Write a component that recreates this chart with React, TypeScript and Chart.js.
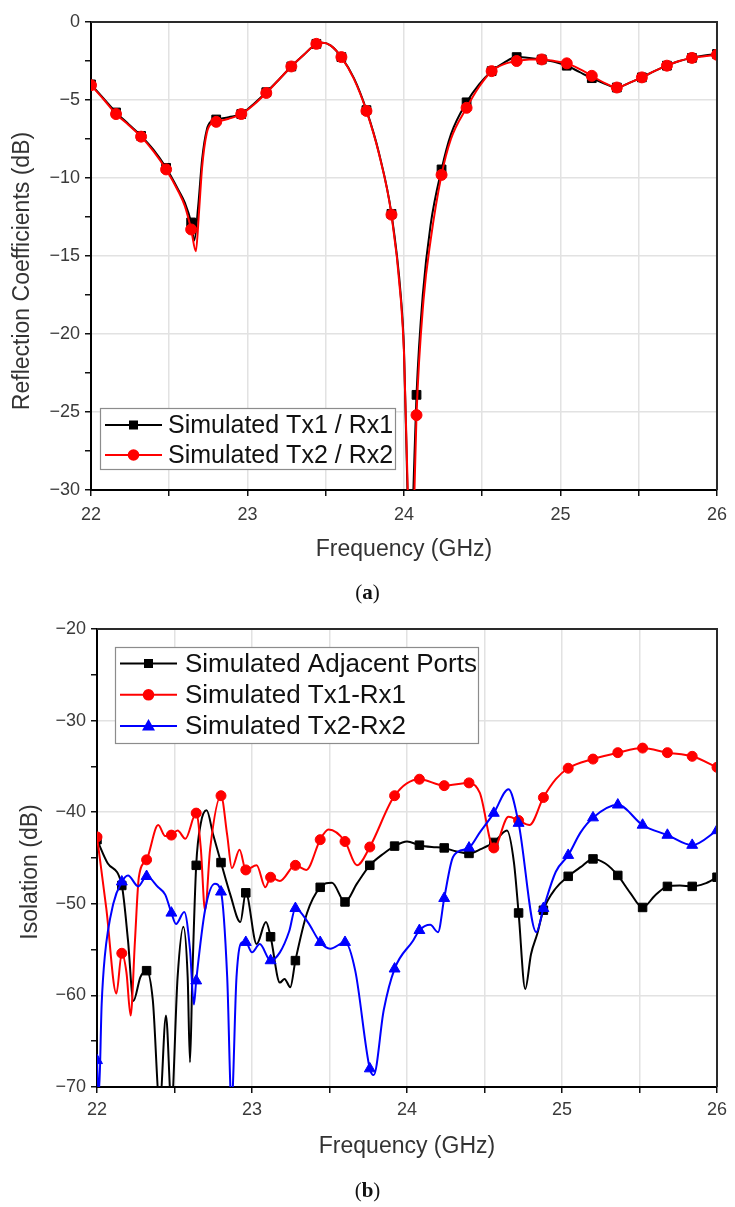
import React, { useEffect, useRef } from "react";
import { Chart, registerables } from "chart.js";

Chart.register(...registerables);

const FONT = "'Liberation Sans', Arial, Helvetica, sans-serif";

// ---------- data ----------
const markerFreqs = [
  22, 22.16, 22.32, 22.48, 22.64, 22.8, 22.96, 23.12, 23.28, 23.44, 23.6, 23.76, 23.92,
  24.08, 24.24, 24.4, 24.56, 24.72, 24.88, 25.04, 25.2, 25.36, 25.52, 25.68, 25.84, 26,
];

// (a) Reflection coefficients, [GHz, dB]
const reflTx1Rx1: [number, number][] = [
  [22, -4.0], [22.08, -4.9], [22.16, -5.8], [22.24, -6.55], [22.32, -7.3], [22.4, -8.2],
  [22.48, -9.35], [22.56, -10.8], [22.6, -11.6], [22.64, -12.85], [22.66, -14.0], [22.685, -11.8],
  [22.71, -8.8], [22.74, -6.9], [22.77, -6.35], [22.8, -6.25], [22.88, -6.1], [22.96, -5.9],
  [23.04, -5.25], [23.12, -4.5], [23.2, -3.7], [23.28, -2.85], [23.36, -2.1], [23.44, -1.4],
  [23.48, -1.33], [23.53, -1.5], [23.6, -2.25], [23.68, -3.6], [23.76, -5.65], [23.84, -8.4],
  [23.92, -12.3], [23.98, -17.6], [24.0, -21.0], [24.022, -30.0], [24.04, -36.0], [24.06, -30.0],
  [24.08, -23.9], [24.12, -17.5], [24.17, -13.0], [24.24, -9.45], [24.3, -7.2], [24.4, -5.15],
  [24.48, -4.0], [24.56, -3.15], [24.64, -2.6], [24.72, -2.25], [24.8, -2.3], [24.88, -2.4],
  [24.96, -2.55], [25.04, -2.8], [25.12, -3.2], [25.2, -3.6], [25.28, -3.95], [25.36, -4.2],
  [25.44, -3.9], [25.52, -3.55], [25.6, -3.15], [25.68, -2.8], [25.76, -2.5], [25.84, -2.3],
  [25.92, -2.15], [26, -2.05],
];

const reflTx2Rx2: [number, number][] = [
  [22, -4.05], [22.08, -4.95], [22.16, -5.9], [22.24, -6.6], [22.32, -7.35], [22.4, -8.3],
  [22.48, -9.45], [22.56, -10.9], [22.6, -11.8], [22.64, -13.3], [22.67, -14.7], [22.69, -12.2],
  [22.71, -9.3], [22.74, -7.1], [22.77, -6.5], [22.8, -6.4], [22.88, -6.2], [22.96, -5.9],
  [23.04, -5.3], [23.12, -4.55], [23.2, -3.7], [23.28, -2.85], [23.36, -2.1], [23.44, -1.4],
  [23.48, -1.33], [23.53, -1.5], [23.6, -2.25], [23.68, -3.65], [23.76, -5.7], [23.84, -8.45],
  [23.92, -12.35], [23.98, -17.8], [24.0, -21.2], [24.024, -30.0], [24.045, -36.0], [24.067, -30.0],
  [24.08, -25.2], [24.125, -17.8], [24.17, -14.0], [24.24, -9.8], [24.3, -7.5], [24.4, -5.5],
  [24.48, -4.15], [24.56, -3.15], [24.64, -2.7], [24.72, -2.5], [24.8, -2.4], [24.88, -2.4],
  [24.96, -2.5], [25.04, -2.65], [25.12, -3.0], [25.2, -3.45], [25.28, -3.9], [25.36, -4.2],
  [25.44, -3.9], [25.52, -3.55], [25.6, -3.15], [25.68, -2.8], [25.76, -2.5], [25.84, -2.3],
  [25.92, -2.2], [26, -2.1],
];

// (b) Isolation, [GHz, dB]
const isoAdjacent: [number, number][] = [
  [22, -43.0], [22.07, -45.6], [22.16, -48.0], [22.2, -54.0], [22.235, -60.6], [22.28, -58.0],
  [22.32, -57.3], [22.36, -60.5], [22.405, -72], [22.445, -62.2], [22.48, -72], [22.52, -58],
  [22.557, -52.5], [22.585, -58], [22.6, -67.3], [22.615, -58], [22.64, -45.8], [22.67, -41.2],
  [22.707, -39.8], [22.75, -42.5], [22.8, -45.5], [22.86, -49], [22.925, -52.0], [22.96, -48.8],
  [23.03, -54.4], [23.09, -52.0], [23.12, -53.6], [23.18, -58.6], [23.21, -58.2], [23.247, -59.1],
  [23.28, -56.2], [23.355, -51.0], [23.44, -48.2], [23.516, -47.7], [23.6, -49.8], [23.677, -47.8],
  [23.76, -45.8], [23.85, -44.5], [23.92, -43.7], [24.0, -43.2], [24.08, -43.6], [24.16, -43.8],
  [24.24, -43.9], [24.32, -44.3], [24.4, -44.5], [24.48, -44.0], [24.56, -43.3], [24.645, -42.0],
  [24.69, -45.5], [24.72, -51.0], [24.763, -59.3], [24.8, -55.5], [24.84, -53.3], [24.88, -50.7],
  [24.96, -48.3], [25.04, -47.0], [25.12, -46.0], [25.2, -45.1], [25.28, -45.6], [25.36, -46.9],
  [25.44, -48.8], [25.52, -50.4], [25.6, -49.1], [25.68, -48.1], [25.76, -48.0], [25.84, -48.1],
  [25.92, -47.8], [26, -47.1],
];

const isoTx1Rx1: [number, number][] = [
  [22, -42.7], [22.06, -50.5], [22.125, -59.8], [22.16, -55.4], [22.19, -57.5], [22.217, -62.2],
  [22.245, -54], [22.27, -47.1], [22.32, -45.2], [22.395, -41.4], [22.44, -42.6], [22.48, -42.5],
  [22.52, -42.0], [22.57, -42.9], [22.64, -40.1], [22.67, -44], [22.697, -50.7], [22.73, -44],
  [22.8, -38.2], [22.84, -42.5], [22.87, -46.1], [22.92, -44.1], [22.96, -46.3], [23.03, -45.8],
  [23.086, -48.2], [23.12, -47.1], [23.18, -47.5], [23.28, -45.8], [23.35, -46.3], [23.44, -43.0],
  [23.494, -41.9], [23.6, -43.2], [23.677, -45.8], [23.76, -43.8], [23.92, -38.2], [24.08, -36.4],
  [24.24, -37.1], [24.4, -36.8], [24.47, -37.9], [24.56, -43.9], [24.655, -40.5], [24.72, -40.9],
  [24.79, -41.4], [24.88, -38.4], [24.96, -36.4], [25.04, -35.2], [25.2, -34.2], [25.36, -33.5],
  [25.52, -33.0], [25.68, -33.5], [25.84, -33.9], [26, -35.1],
];

const isoTx2Rx2: [number, number][] = [
  [22, -67.1], [22.012, -71], [22.03, -61], [22.05, -55.8], [22.105, -50.0], [22.16, -47.6],
  [22.2, -46.9], [22.266, -48.1], [22.32, -47.0], [22.395, -48.2], [22.44, -49.0], [22.48, -51.0],
  [22.51, -52.2], [22.563, -50.9], [22.6, -55], [22.625, -61.0], [22.64, -58.4], [22.697, -50.7],
  [22.76, -47.8], [22.8, -48.7], [22.84, -58], [22.868, -72], [22.9, -58], [22.937, -54.2],
  [22.96, -54.2], [23.0, -55.3], [23.05, -54.4], [23.12, -56.2], [23.18, -55.3], [23.24, -53],
  [23.28, -50.5], [23.36, -52.0], [23.44, -54.2], [23.505, -54.9], [23.6, -54.2], [23.666, -57.3],
  [23.76, -68.0], [23.785, -68.7], [23.85, -61.6], [23.92, -57.1], [24.04, -54], [24.08, -52.9],
  [24.15, -52.3], [24.2, -53.1], [24.24, -49.4], [24.29, -45.2], [24.33, -44.3], [24.4, -43.9],
  [24.47, -42.2], [24.56, -40.1], [24.655, -37.5], [24.72, -41.2], [24.834, -53.1], [24.88, -50.5],
  [24.96, -46.5], [25.04, -44.7], [25.12, -42.2], [25.2, -40.6], [25.36, -39.2], [25.52, -41.4],
  [25.68, -42.5], [25.84, -43.6], [26, -42.0],
];

const freqTickLabels = [22, 23, 24, 25, 26];
const reflTickLabels = [0, -5, -10, -15, -20, -25, -30];
const isoTickLabels = [-20, -30, -40, -50, -60, -70];

// ---------- helpers ----------
const markerSet = new Set(markerFreqs);
const fmt = (v: number) => (v < 0 ? "\u2212" + Math.abs(v) : String(v));

function makeDataset(label: string, pts: [number, number][], color: string, style: string, radius: number, order: number) {
  return {
    label,
    data: pts.map(([x, y]) => ({ x, y })),
    borderColor: color,
    backgroundColor: color,
    borderWidth: 2,
    pointStyle: style,
    pointRadius: (c: any) => (c.raw && markerSet.has(c.raw.x) ? radius : 0),
    pointHoverRadius: 0,
    pointBackgroundColor: color,
    pointBorderColor: color,
    pointBorderWidth: 1,
    cubicInterpolationMode: "monotone",
    tension: 0.4,
    fill: false,
    order,
  };
}

function drawMarker(ctx: CanvasRenderingContext2D, style: string, x: number, y: number, color: string) {
  ctx.fillStyle = color;
  ctx.beginPath();
  if (style === "rect") {
    ctx.rect(x - 4.5, y - 4.5, 9, 9);
  } else if (style === "circle") {
    ctx.arc(x, y, 5.8, 0, Math.PI * 2);
  } else {
    ctx.moveTo(x, y - 7);
    ctx.lineTo(x + 6.5, y + 4.5);
    ctx.lineTo(x - 6.5, y + 4.5);
    ctx.closePath();
  }
  ctx.fill();
}

const decorPlugin = {
  id: "decor",
  afterDraw(chart: any, _args: any, opts: any) {
    const { ctx, chartArea } = chart;
    const { left, top, right, bottom } = chartArea;
    ctx.save();
    // top & right frame
    ctx.strokeStyle = "#2a2a2a";
    ctx.lineWidth = 2;
    ctx.beginPath();
    ctx.moveTo(left, top);
    ctx.lineTo(right, top);
    ctx.lineTo(right, bottom);
    ctx.stroke();

    // y title
    ctx.save();
    ctx.translate(opts.yTitleX, (top + bottom) / 2 + opts.yTitleDy);
    ctx.rotate(-Math.PI / 2);
    ctx.font = `23px ${FONT}`;
    ctx.fillStyle = "#333";
    ctx.textAlign = "center";
    ctx.textBaseline = "middle";
    ctx.fillText(opts.yTitle, 0, 0);
    ctx.restore();

    // legend
    const L = opts.legend;
    ctx.fillStyle = "#fff";
    ctx.fillRect(L.x, L.y, L.w, L.h);
    ctx.strokeStyle = "#8c8c8c";
    ctx.lineWidth = 1.2;
    ctx.strokeRect(L.x + 0.5, L.y + 0.5, L.w, L.h);
    const entries = chart.data.datasets;
    entries.forEach((d: any, i: number) => {
      const ry = L.y + L.firstRow + i * L.rowGap;
      ctx.strokeStyle = d.borderColor;
      ctx.lineWidth = 2;
      ctx.beginPath();
      ctx.moveTo(L.x + L.lineX1, ry);
      ctx.lineTo(L.x + L.lineX2, ry);
      ctx.stroke();
      drawMarker(ctx, d.pointStyle, L.x + (L.lineX1 + L.lineX2) / 2, ry, d.borderColor);
      ctx.fillStyle = "#111";
      ctx.font = `${L.fontSize}px ${FONT}`;
      ctx.textAlign = "left";
      ctx.textBaseline = "middle";
      ctx.fillText(d.label, L.x + L.textX, ry + 1);
    });
    ctx.restore();
  },
};

function buildOptions(cfg: any) {
  return {
    responsive: false,
    animation: false,
    devicePixelRatio: 1,
    events: [],
    layout: { padding: cfg.padding },
    plugins: {
      legend: { display: false },
      tooltip: { enabled: false },
      decor: cfg.decor,
    },
    scales: {
      x: {
        type: "linear",
        min: 22,
        max: 26,
        afterFit: (s: any) => {
          s.height = cfg.xAxisHeight;
        },
        ticks: {
          stepSize: 0.5,
          autoSkip: false,
          maxRotation: 0,
          padding: cfg.xTickPad,
          color: "#3a3a3a",
          font: { size: 18, family: FONT },
          callback: (v: number) => (freqTickLabels.includes(v) ? fmt(v) : ""),
        },
        grid: { color: "#e2e2e2", lineWidth: 1.5, tickColor: "#111", tickLength: 6, tickWidth: 1.5 },
        border: { color: "#000", width: 2 },
        title: {
          display: true,
          text: "Frequency (GHz)",
          color: "#333",
          font: { size: 23, family: FONT },
          padding: { top: 0, bottom: cfg.xTitlePad },
        },
      },
      y: {
        type: "linear",
        min: cfg.yMin,
        max: cfg.yMax,
        afterFit: (s: any) => {
          s.width = cfg.yAxisWidth;
        },
        ticks: {
          stepSize: cfg.yStep,
          autoSkip: false,
          padding: 5,
          color: "#3a3a3a",
          font: { size: 18, family: FONT },
          callback: (v: number) => (cfg.yLabels.includes(v) ? fmt(v) : ""),
        },
        grid: {
          color: (c: any) => (c.tick && cfg.yLabels.includes(c.tick.value) ? "#e2e2e2" : "rgba(0,0,0,0)"),
          lineWidth: 1.5,
          tickColor: "#111",
          tickLength: 6,
          tickWidth: 1.5,
        },
        border: { color: "#000", width: 2 },
        title: { display: false },
      },
    },
  };
}

function ChartCanvas({ width, height, top, config }: { width: number; height: number; top: number; config: () => any }) {
  const ref = useRef<HTMLCanvasElement | null>(null);
  useEffect(() => {
    if (!ref.current) return;
    const chart = new Chart(ref.current, config());
    return () => chart.destroy();
  }, []);
  return (
    <canvas
      ref={ref}
      width={width}
      height={height}
      style={{ position: "absolute", left: 0, top, width, height, display: "block" }}
    />
  );
}

const configA = () => ({
  type: "line",
  data: {
    datasets: [
      makeDataset("Simulated Tx1 / Rx1", reflTx1Rx1, "#000000", "rect", 6.2, 2),
      makeDataset("Simulated Tx2 / Rx2", reflTx2Rx2, "#ff0000", "circle", 5.5, 1),
    ],
  },
  options: buildOptions({
    padding: { left: 0, right: 11, top: 22, bottom: 0 },
    xAxisHeight: 110,
    xTickPad: 8,
    xTitlePad: 37,
    yAxisWidth: 91,
    yMin: -30,
    yMax: 0,
    yStep: 2.5,
    yLabels: reflTickLabels,
    decor: {
      yTitle: "Reflection Coefficients (dB)",
      yTitleX: 23,
      yTitleDy: 15,
      legend: { x: 100, y: 408, w: 295, h: 61, firstRow: 17, rowGap: 30, lineX1: 5, lineX2: 62, textX: 68, fontSize: 25 },
    },
  }),
  plugins: [decorPlugin],
});

const configB = () => ({
  type: "line",
  data: {
    datasets: [
      makeDataset("Simulated Adjacent Ports", isoAdjacent, "#000000", "rect", 6, 3),
      makeDataset("Simulated Tx1-Rx1", isoTx1Rx1, "#ff0000", "circle", 5, 2),
      makeDataset("Simulated Tx2-Rx2", isoTx2Rx2, "#0000ff", "triangle", 6.3, 1),
    ],
  },
  options: buildOptions({
    padding: { left: 0, right: 18, top: 29, bottom: 0 },
    xAxisHeight: 120,
    xTickPad: 6,
    xTitlePad: 47,
    yAxisWidth: 97,
    yMin: -70,
    yMax: -20,
    yStep: 5,
    yLabels: isoTickLabels,
    decor: {
      yTitle: "Isolation (dB)",
      yTitleX: 31,
      yTitleDy: 14,
      legend: { x: 115, y: 47, w: 363, h: 96, firstRow: 16.5, rowGap: 31.3, lineX1: 5, lineX2: 62, textX: 70, fontSize: 26 },
    },
  }),
  plugins: [decorPlugin],
});

const captionStyle = (top: number): React.CSSProperties => ({
  position: "absolute",
  left: 0,
  top,
  width: 735,
  height: 26,
  lineHeight: "26px",
  textAlign: "center",
  fontFamily: "'Liberation Serif', 'DejaVu Serif', serif",
  fontSize: 21,
  color: "#111",
});

export default function App() {
  return (
    <div style={{ position: "absolute", left: 0, top: 0, width: 735, height: 1207, background: "#fff", overflow: "hidden" }}>
      <ChartCanvas width={735} height={600} top={0} config={configA} />
      <div style={captionStyle(579)}>
        (<b>a</b>)
      </div>
      <ChartCanvas width={735} height={607} top={600} config={configB} />
      <div style={captionStyle(1177)}>
        (<b>b</b>)
      </div>
    </div>
  );
}
